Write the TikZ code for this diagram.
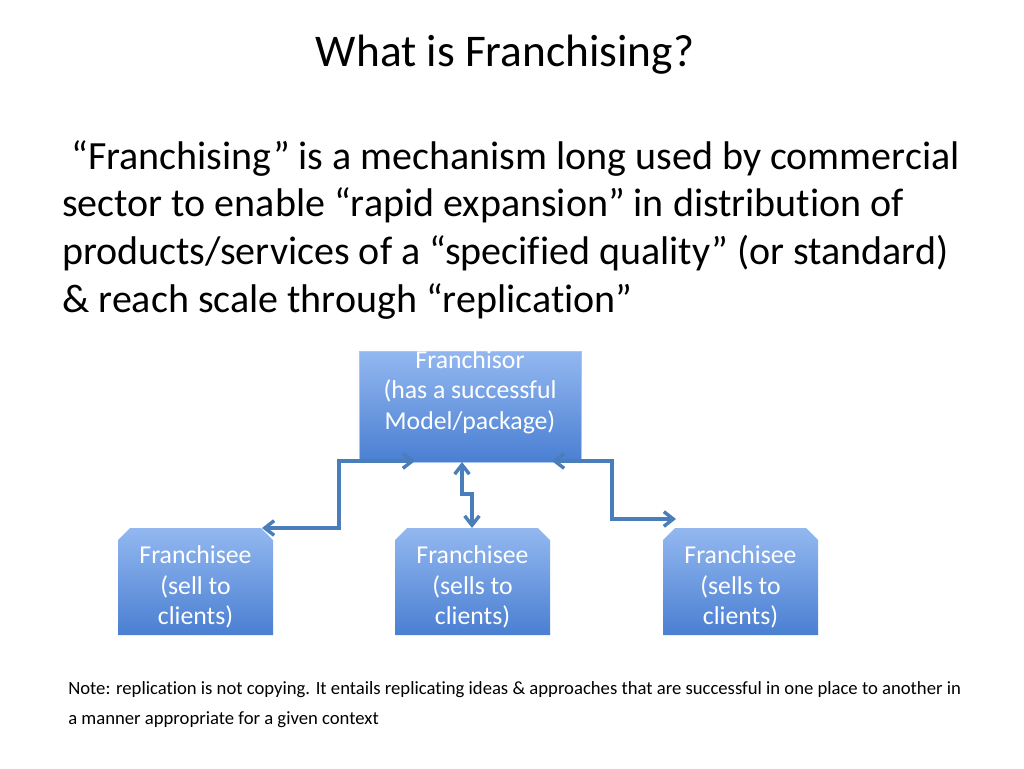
\documentclass[tikz,border=0pt]{standalone}
\usepackage{fontspec}
\setmainfont{Carlito}[Ligatures={NoCommon}]
\usetikzlibrary{arrows.meta}
\definecolor{topc}{HTML}{93B8F0}
\definecolor{botc}{HTML}{4A7FD2}
\definecolor{linec}{HTML}{4A7EBB}
\tikzset{
  conn/.style={draw=linec,line width=2.6pt,{Straight Barb[length=7pt,width=11pt]}-{Straight Barb[length=7pt,width=11pt]}},
  lbl/.style={text=white,font=\fontsize{19.3}{23}\selectfont,align=center}
}
\begin{document}
\begin{tikzpicture}[x=0.75pt,y=-0.75pt]
\useasboundingbox (0,0) rectangle (1024,768);
\node (title) at (505,55) {\fontsize{34}{40}\selectfont What is Franchising?};
\node[anchor=north west,align=left,inner sep=0pt,font=\fontsize{30}{35.8}\selectfont] (body) at (62,140)
{\ “Franchising” is a mechanism long used by commercial\\
sector to enable “rapid expansion” in distribution of\\
products/services of a “specified quality” (or standard)\\
\& reach scale through “replication”};
% franchisor
\shade[top color=topc,bottom color=botc,draw=topc!80!white] (359,351) rectangle (581,462);
\node[lbl] (fr) at (470,392) {Franchisor\\(has a successful\\Model/package)};
% franchisees
\foreach \x/\n/\t in {118/a/sell, 395/b/sells, 663/c/sells}{
  \shade[top color=topc,bottom color=botc] (\x+12,528) -- (\x+155-12,528) -- (\x+155,540) -- (\x+155,635) -- (\x,635) -- (\x,540) -- cycle;
  \node[lbl] (\n) at (\x+77.5,587) {Franchisee\\(\t\ to\\clients)};
}
\coordinate (a1) at (262,528);
\coordinate (a2) at (415,461);
\draw[conn] (a1) -- (339,528) -- (339,461) -- (a2);
\coordinate (b1) at (462,462);
\coordinate (b2) at (472,528);
\draw[conn] (b1) -- (462,494) -- (472,494) -- (b2);
\coordinate (c1) at (552,461);
\coordinate (c2) at (676,519);
\draw[conn] (c1) -- (612,461) -- (612,519) -- (c2);
\node[anchor=north west,align=left,inner sep=0pt,font=\fontsize{14}{23}\selectfont] (note) at (68,681)
{Note: replication is not copying. It entails replicating ideas \& approaches that are successful in one place to another in\\
a manner appropriate for a given context};
\end{tikzpicture}
\end{document}
